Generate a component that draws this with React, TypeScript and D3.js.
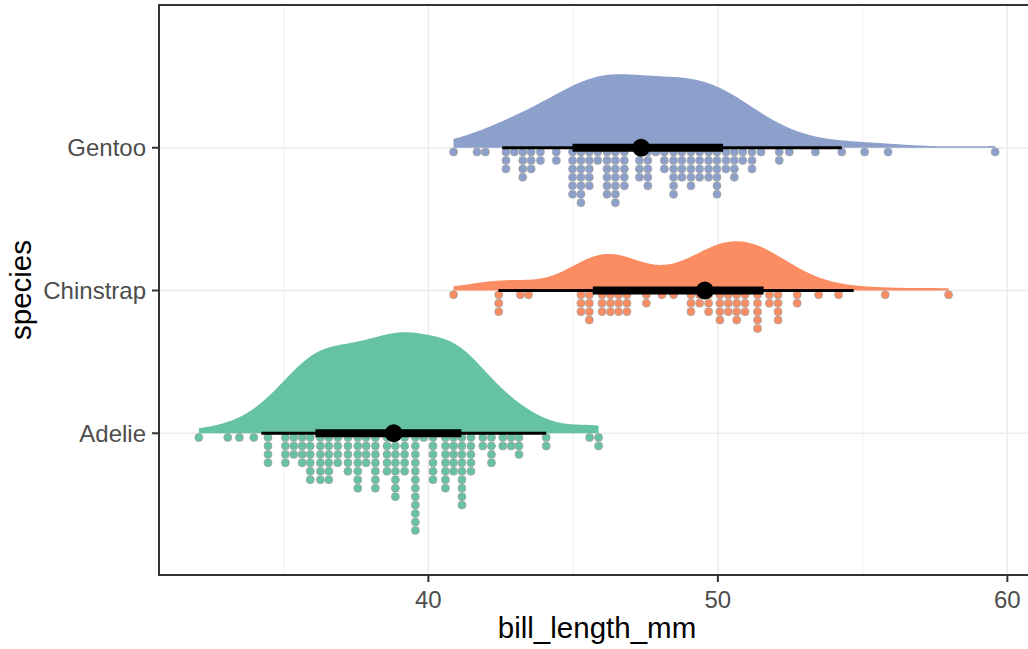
import React from "react";
import * as d3 from "d3";

// ---------- data ----------
const species = ["Adelie", "Chinstrap", "Gentoo"];
const fills = ["#66C2A5", "#FC8D62", "#8DA0CB"];

// dot columns: [bill_length_mm, number of stacked dots]
const adelieDots: [number, number][] = [
  [32.07, 1], [33.07, 1], [33.47, 1], [33.97, 1], [34.46, 4], [35.06, 4], [35.35, 3],
  [35.64, 4], [35.92, 6], [36.27, 6], [36.56, 6], [36.87, 4], [37.22, 5], [37.56, 7],
  [37.85, 4], [38.17, 7], [38.57, 5], [38.86, 8], [39.18, 5], [39.55, 12], [39.84, 1],
  [40.16, 6], [40.59, 7], [40.87, 5], [41.16, 9], [41.47, 5], [41.88, 2], [42.18, 4],
  [42.57, 2], [42.86, 2], [43.13, 3], [44.07, 2], [45.57, 1], [45.88, 2],
];
const chinstrapDots: [number, number][] = [
  [40.87, 1], [42.43, 3], [43.18, 1], [43.46, 1], [45.27, 3], [45.56, 4], [46.0, 3],
  [46.29, 3], [46.57, 3], [46.86, 3], [47.53, 2], [48.07, 1], [48.47, 1], [49.07, 3],
  [49.37, 2], [49.68, 3], [50.07, 4], [50.36, 3], [50.65, 4], [50.94, 3], [51.37, 5],
  [51.78, 2], [52.08, 4], [52.74, 2], [53.48, 1], [54.17, 1], [55.78, 1], [57.97, 1],
];
const gentooDots: [number, number][] = [
  [40.87, 1], [41.68, 1], [41.97, 1], [42.68, 3], [42.97, 1], [43.26, 4], [43.55, 3],
  [43.87, 2], [44.42, 2], [44.98, 6], [45.27, 7], [45.56, 5], [45.85, 2], [46.17, 6],
  [46.46, 7], [46.77, 5], [47.29, 4], [47.58, 5], [47.86, 1], [48.15, 3], [48.47, 6],
  [48.76, 4], [49.07, 5], [49.37, 4], [49.68, 4], [49.97, 6], [50.28, 3], [50.57, 4],
  [50.86, 2], [51.18, 3], [51.49, 1], [52.12, 2], [52.47, 1], [53.37, 1], [54.28, 1],
  [55.07, 1], [55.88, 1], [59.58, 1],
];
const dotColumns = [adelieDots, chinstrapDots, gentooDots];
// kernel bandwidth adjustment per species (relative to Silverman's rule)
const bandwidthAdjust = [1.0, 0.8, 1.25];

// point + intervals (median, 66% and 95% intervals)
const medians = [38.8, 49.55, 47.35];
const innerIntervals: [number, number][] = [[36.1, 41.14], [45.68, 51.58], [44.98, 50.18]];
const outerIntervals: [number, number][] = [[34.23, 44.07], [42.42, 54.69], [42.55, 54.28]];

const xMajorTicks = [40, 50, 60];
const xMinorTicks = [35, 45, 55];
const xTitle = "bill_length_mm";
const yTitle = "species";

// ---------- layout ----------
const W = 1028;
const H = 649;
const M = { left: 159, top: 5, right: 1035, bottom: 575 };
const FONT = "'Liberation Sans', Arial, Helvetica, sans-serif";
const SLAB_MAX = 101; // px height of tallest slab
const DOT_PITCH = 8.45;
const DOT_R = 4.0;
const TICK_FS = 24;
const TITLE_FS = 29.5;

function expand(cols: [number, number][]) {
  const out: number[] = [];
  cols.forEach(([v, n]) => {
    for (let i = 0; i < n; i++) out.push(v);
  });
  return out;
}

// gaussian kde, scaled by count (thickness = density * n)
function kde(values: number[], adjust: number, n = 256) {
  const sorted = values.slice().sort(d3.ascending);
  const sd = d3.deviation(sorted) as number;
  const iqr = (d3.quantileSorted(sorted, 0.75) as number) - (d3.quantileSorted(sorted, 0.25) as number);
  const bw = adjust * 0.9 * Math.min(sd, iqr / 1.34) * Math.pow(sorted.length, -0.2);
  const lo = sorted[0];
  const hi = sorted[sorted.length - 1];
  const pts: [number, number][] = [];
  for (let i = 0; i < n; i++) {
    const xv = lo + ((hi - lo) * i) / (n - 1);
    let s = 0;
    for (const v of sorted) {
      const z = (xv - v) / bw;
      s += Math.exp(-0.5 * z * z);
    }
    pts.push([xv, s / (bw * Math.sqrt(2 * Math.PI))]);
  }
  return pts;
}

export default function App() {
  const allValues = dotColumns.flatMap((c) => c.map((d) => d[0]));
  const lo = d3.min(allValues) as number;
  const hi = d3.max(allValues) as number;
  const pad = (hi - lo) * 0.05;
  const x = d3.scaleLinear().domain([lo - pad, hi + pad]).range([M.left, M.right]);
  const y = d3.scalePoint<string>().domain(species).range([576, M.top]).padding(1);

  const densities = dotColumns.map((c, i) => kde(expand(c), bandwidthAdjust[i]));
  const dmax = d3.max(densities.flat(), (d) => d[1]) as number;
  const h = d3.scaleLinear().domain([0, dmax]).range([0, SLAB_MAX]);

  return (
    <svg
      width={W}
      height={H}
      style={{ position: "absolute", left: 0, top: 0, background: "#fff" }}
      fontFamily={FONT}
    >
      <rect x={0} y={0} width={W} height={H} fill="#fff" />
      {/* grid */}
      {xMinorTicks.map((t) => (
        <line key={"mn" + t} x1={x(t)} x2={x(t)} y1={M.top} y2={M.bottom} stroke="#EBEBEB" strokeWidth={0.75} />
      ))}
      {xMajorTicks.map((t) => (
        <line key={"mj" + t} x1={x(t)} x2={x(t)} y1={M.top} y2={M.bottom} stroke="#EBEBEB" strokeWidth={1.4} />
      ))}
      {species.map((s) => (
        <line key={"hg" + s} x1={M.left} x2={M.right} y1={y(s)} y2={y(s)} stroke="#EBEBEB" strokeWidth={1.4} />
      ))}

      {/* slabs */}
      {species.map((s, i) => {
        const base = y(s) as number;
        const area = d3
          .area<[number, number]>()
          .x((d) => x(d[0]))
          .y0(base)
          .y1((d) => base - h(d[1]));
        return <path key={"slab" + s} d={area(densities[i]) as string} fill={fills[i]} />;
      })}

      {/* dots */}
      {species.map((s, i) => {
        const base = y(s) as number;
        return (
          <g key={"dots" + s}>
            {dotColumns[i].flatMap(([v, n], j) =>
              d3.range(n).map((k) => (
                <circle
                  key={j + "-" + k}
                  cx={x(v)}
                  cy={base + DOT_PITCH / 2 + k * DOT_PITCH}
                  r={DOT_R}
                  fill={fills[i]}
                  stroke="#A3A3A3"
                  strokeWidth={0.8}
                />
              ))
            )}
          </g>
        );
      })}

      {/* intervals */}
      {species.map((s, i) => {
        const base = y(s) as number;
        return (
          <g key={"int" + s}>
            <line x1={x(outerIntervals[i][0])} x2={x(outerIntervals[i][1])} y1={base} y2={base} stroke="#000" strokeWidth={3.2} />
            <line x1={x(innerIntervals[i][0])} x2={x(innerIntervals[i][1])} y1={base} y2={base} stroke="#000" strokeWidth={8} />
            <circle cx={x(medians[i])} cy={base} r={9} fill="#000" />
          </g>
        );
      })}

      {/* panel border */}
      <rect x={M.left} y={M.top} width={M.right - M.left} height={M.bottom - M.top} fill="none" stroke="#333333" strokeWidth={2} />

      {/* x axis */}
      {xMajorTicks.map((t) => (
        <g key={"xt" + t}>
          <line x1={x(t)} x2={x(t)} y1={M.bottom} y2={M.bottom + 7} stroke="#333333" strokeWidth={2} />
          <text x={x(t)} y={608} textAnchor="middle" fontSize={TICK_FS} fill="#4D4D4D">
            {t}
          </text>
        </g>
      ))}
      {/* y axis */}
      {species.map((s) => (
        <g key={"yt" + s}>
          <line x1={M.left - 7} x2={M.left} y1={y(s)} y2={y(s)} stroke="#333333" strokeWidth={2} />
          <text x={M.left - 13} y={(y(s) as number) + 8.5} textAnchor="end" fontSize={TICK_FS} fill="#4D4D4D">
            {s}
          </text>
        </g>
      ))}
      <text x={(M.left + M.right) / 2} y={638} textAnchor="middle" fontSize={TITLE_FS} fill="#000">
        {xTitle}
      </text>
      <text transform={`translate(31,${(M.top + M.bottom) / 2}) rotate(-90)`} textAnchor="middle" fontSize={TITLE_FS} fill="#000">
        {yTitle}
      </text>
    </svg>
  );
}
